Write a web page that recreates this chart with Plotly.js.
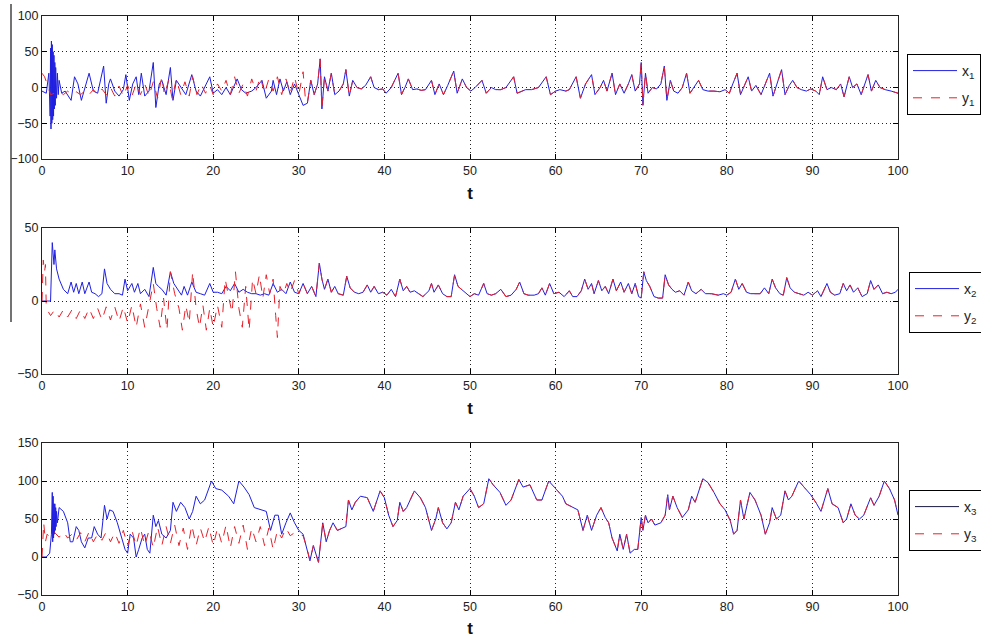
<!DOCTYPE html>
<html>
<head>
<meta charset="utf-8">
<script src="https://cdn.plot.ly/plotly-3.0.1.min.js"></script>
<style>html,body{margin:0;padding:0;background:#fff;overflow:hidden;}#chart{width:981px;height:638px;}</style>
</head>
<body>
<div id="chart"></div>
<script>
// ---- Panel 1 data: [t, value] pairs ----
const x1Early = [[0,-5],[0.5,-8],[0.8,20],[0.95,-40],[1.0,55],[1.05,-58],[1.1,65],[1.15,-50],[1.2,60],[1.25,-45],[1.3,50],[1.35,-40],[1.4,45],[1.45,-30],[1.5,35],[1.55,-25],[1.6,28],[1.7,-15],[1.8,20],[1.9,-10],[2.0,10],[2.3,-8],[2.7,-5],[3.0,-10],[3.4,-18],[3.8,15],[4.2,5],[4.6,-18],[5.0,0],[5.5,20],[6.0,-5],[6.5,-8],[7.2,30],[7.5,-22],[7.8,5],[8.0,12],[8.5,-5],[9.0,-12],[9.5,-3],[9.8,18],[10.2,-18],[10.6,5],[11.0,15],[11.3,-10],[11.6,20],[12.0,-12],[12.5,-5],[13.0,35],[13.3,-28],[13.7,5],[14.0,10],[14.5,-10],[15.0,28],[15.3,-18],[15.7,10],[16.2,0],[16.8,-10],[17.5,18],[18.0,-5],[18.5,-12],[19.6,15],[20.0,-8],[20.5,-3],[21.0,-10],[21.5,0],[22.0,-10],[22.8,12],[23.3,-3],[23.8,-8],[24.5,-5],[25.0,0],[25.7,10],[26.2,-15],[26.8,-5],[27.0,10],[27.4,-10],[27.8,12],[28.2,-5],[28.6,8],[29.0,-10],[29.5,5],[30.0,-10],[30.5,-25]];
const y1Early = [[0,20],[0.3,15],[0.6,5],[1.0,-10],[1.5,-8],[2.0,-5],[2.5,-10],[3.0,-5],[3.5,-10],[4.0,-6],[4.5,-10],[5.0,-5],[5.5,-10],[6.0,-3],[6.5,-10],[7.0,-2],[7.5,-10],[8.0,0],[8.5,-12],[9.0,2],[9.5,-12],[10.0,3],[10.5,-12],[11.0,5],[11.5,-10],[12.0,5],[12.5,-12],[13.0,8],[13.5,-15],[14.0,15],[14.3,-10],[14.8,10],[15.2,-15],[15.7,12],[16.2,-10],[16.7,8],[17.2,-12],[17.6,15],[18.1,-10],[18.6,5],[19.1,-8],[19.6,3],[20.0,-10],[20.5,5],[21.0,-5],[21.5,10],[22.0,-10],[22.5,15],[23.0,-8],[23.5,5],[24.0,-12],[24.5,12],[25.0,-5],[25.5,15],[26.0,-8],[26.5,12],[27.0,-5],[27.5,15],[28.0,-10],[28.5,12],[29.0,-8],[29.5,15],[30.0,-10],[30.5,22],[30.8,-20]];
const sync1 = [[31.0,-22],[31.4,10],[31.8,-10],[32.2,5],[32.5,40],[32.7,-30],[33.0,15],[33.4,-5],[33.8,20],[34.2,-10],[34.7,-5],[35.2,5],[35.5,25],[35.9,-12],[36.3,10],[36.8,0],[37.3,-2],[37.8,3],[38.4,15],[38.8,0],[39.3,-3],[39.8,-2],[40.2,-8],[40.8,0],[41.6,20],[42.0,-10],[42.4,0],[42.8,12],[43.3,-3],[43.8,-2],[44.3,-4],[44.8,-3],[45.5,10],[45.9,-10],[46.4,5],[46.9,-10],[47.4,3],[48.1,23],[48.5,-8],[49.1,12],[49.6,0],[50.1,-5],[50.6,0],[51.4,10],[51.9,-8],[52.5,0],[53.0,-3],[53.6,-3],[54.2,0],[55.1,15],[55.5,-8],[56.0,-5],[56.5,-3],[57.2,-3],[58.0,0],[58.9,15],[59.4,-10],[60.0,-5],[60.5,-3],[61.2,-5],[61.6,-3],[62.4,15],[62.9,-15],[63.5,5],[64.2,18],[64.6,-10],[65.2,0],[65.6,10],[66.0,-5],[66.6,20],[67.0,-10],[67.5,5],[68.0,-8],[68.5,5],[68.9,18],[69.3,-5],[69.8,5],[70.0,35],[70.2,-25],[70.5,20],[70.8,-8],[71.3,0],[71.8,-2],[72.3,5],[72.7,30],[73.0,-18],[73.4,10],[73.8,-5],[74.3,-8],[74.8,0],[75.3,20],[75.7,-8],[76.2,2],[76.7,10],[77.2,-3],[77.8,-5],[78.5,-5],[79.2,-6],[79.8,-3],[80.3,-8],[80.7,5],[81.2,20],[81.6,-10],[82.0,2],[82.5,15],[82.9,-5],[83.4,3],[84.0,-10],[84.5,5],[85.0,20],[85.4,-12],[85.9,5],[86.4,25],[86.8,-10],[87.3,3],[87.7,10],[88.2,0],[88.7,-3],[89.3,-5],[89.8,-2],[90.4,-5],[90.8,-10],[91.2,15],[91.7,-3],[92.2,0],[92.8,-3],[93.3,5],[93.7,-13],[94.3,15],[94.7,0],[95.2,5],[95.7,-10],[96.5,18],[96.9,-5],[97.4,10],[97.9,0],[98.5,-3],[99.2,-5],[100,-8]];

// ---- Panel 2 data ----
const x2Early = [[0,0],[1.0,0],[1.2,40],[1.4,25],[1.5,35],[1.7,22],[2.0,15],[2.5,8],[3.0,5],[3.4,13],[3.7,6],[4.0,12],[4.3,5],[4.7,13],[5.0,5],[5.5,13],[5.8,6],[6.2,5],[6.6,3],[7.0,5],[7.3,22],[7.6,12],[8.0,8],[8.5,5],[9.0,5],[9.4,4],[9.7,15],[10.0,7],[10.5,12],[10.8,6],[11.2,12],[11.5,5],[12.0,8],[12.5,3],[13.0,23],[13.3,12],[13.6,10],[14.0,8],[14.5,4],[15.0,20],[15.4,12],[15.8,8],[16.3,4],[16.6,10],[17.0,4],[17.5,13],[18.0,6],[18.5,5],[19.0,4],[19.6,12],[20.0,6],[20.5,6],[21.0,5],[21.5,10],[22.0,7],[22.5,12],[23.0,6],[23.5,8],[24.0,6],[24.5,5],[25.0,5],[25.5,4],[26.0,5],[26.5,4],[27.0,12],[27.5,6],[28.0,8],[28.5,5],[29.0,13],[29.5,6],[30.0,5],[30.5,12]];
const y2Early = [[0,0],[0.15,28],[0.3,20],[0.4,25],[0.5,-5],[1.0,-10],[1.5,-6],[2.0,-11],[2.5,-6],[3.0,-11],[3.5,-6],[4.0,-12],[4.5,-6],[5.0,-12],[5.5,-5],[6.0,-12],[6.5,-5],[7.0,-13],[7.5,-4],[8.0,-13],[8.5,-4],[9.0,-14],[9.5,-4],[10.0,-15],[10.5,-3],[11.0,-18],[11.5,-2],[12.0,-18],[12.5,-3],[13.0,12],[13.4,-5],[13.8,-18],[14.2,2],[14.6,-20],[15.0,20],[15.5,5],[16.0,-5],[16.4,-20],[16.8,-3],[17.2,-15],[17.6,20],[18.0,-5],[18.4,-18],[18.8,-3],[19.2,-20],[19.6,-5],[20.0,-18],[20.5,-3],[21.0,-18],[21.4,15],[21.8,3],[22.2,-8],[22.6,20],[23.0,-5],[23.4,-18],[23.8,10],[24.2,-20],[24.6,15],[25.0,5],[25.4,18],[25.8,2],[26.2,18],[26.6,5],[27.0,15],[27.3,-10],[27.5,-25],[27.8,10],[28.2,5],[28.6,12],[29.0,6],[29.5,14],[30.0,5],[30.5,12]];
const sync2 = [[31.0,5],[31.5,10],[32.0,3],[32.4,26],[32.7,15],[33.0,8],[33.4,15],[33.8,6],[34.2,10],[34.6,5],[35.2,4],[35.6,17],[36.0,9],[36.5,6],[37.0,5],[37.5,6],[38.0,11],[38.4,6],[38.8,10],[39.3,5],[39.8,6],[40.3,4],[40.8,8],[41.3,3],[41.8,15],[42.2,7],[42.6,10],[43.0,6],[43.5,7],[44.0,5],[44.5,3],[45.2,7],[45.5,12],[45.8,6],[46.3,11],[46.8,5],[47.3,3],[47.8,3],[48.2,18],[48.6,10],[49.0,8],[49.5,5],[50.0,3],[50.5,5],[51.0,4],[51.6,12],[52.0,5],[52.5,4],[53.0,5],[53.6,8],[54.2,3],[54.8,4],[55.4,8],[55.8,13],[56.3,5],[56.8,4],[57.5,4],[58.0,5],[58.4,9],[58.8,4],[59.3,12],[59.8,5],[60.4,6],[61.0,3],[61.6,7],[62.0,3],[62.5,3],[63.0,7],[63.4,15],[63.8,8],[64.2,12],[64.5,5],[65.0,14],[65.4,7],[65.8,10],[66.2,5],[66.7,15],[67.1,7],[67.6,13],[68.0,6],[68.5,12],[68.9,5],[69.3,12],[69.7,3],[70.0,2],[70.3,20],[70.6,14],[71.0,10],[71.5,3],[72.0,2],[72.5,2],[72.8,18],[73.2,11],[73.6,8],[74.0,6],[74.5,7],[75.0,4],[75.5,13],[75.9,7],[76.4,5],[77.0,8],[77.5,5],[78.2,5],[79.0,4],[79.6,5],[80.0,4],[80.5,6],[81.0,15],[81.4,8],[81.8,12],[82.3,6],[82.8,5],[83.3,5],[83.9,5],[84.4,9],[84.9,5],[85.3,15],[85.7,9],[86.2,5],[86.6,4],[87.0,16],[87.4,9],[87.9,6],[88.5,5],[89.0,4],[89.5,6],[90.0,4],[90.6,7],[91.0,3],[91.7,12],[92.1,6],[92.6,4],[93.2,5],[93.6,12],[94.0,7],[94.4,11],[94.8,6],[95.3,9],[95.8,3],[96.4,5],[96.8,14],[97.2,8],[97.7,11],[98.2,5],[98.7,6],[99.2,5],[99.7,6],[100,8]];

// ---- Panel 3 data ----
const x3Early = [[0,0],[0.5,0],[0.9,5],[1.1,30],[1.2,85],[1.25,20],[1.3,80],[1.35,25],[1.4,70],[1.45,30],[1.5,70],[1.55,35],[1.6,65],[1.65,40],[1.7,60],[1.8,45],[2.0,65],[2.5,60],[3.0,45],[3.3,20],[3.6,20],[4.0,40],[4.3,35],[4.6,20],[5.0,12],[5.4,25],[5.8,25],[6.1,40],[6.5,30],[6.9,25],[7.3,68],[7.6,50],[7.9,62],[8.3,60],[8.8,45],[9.3,25],[9.7,10],[10.0,5],[10.3,30],[10.7,25],[11.0,0],[11.3,10],[11.7,25],[12.0,30],[12.3,10],[12.6,5],[13.0,55],[13.3,40],[13.6,48],[14.0,30],[14.5,25],[15.0,35],[15.3,72],[15.7,60],[16.2,72],[16.7,65],[17.2,50],[17.6,60],[18.0,80],[18.5,70],[19.0,75],[19.8,100],[20.3,90],[21.0,88],[21.8,80],[22.4,70],[23.0,100],[23.6,92],[24.2,82],[24.8,65],[25.5,62],[26.2,60],[26.7,35],[27.2,55],[27.6,55],[28.0,30],[28.5,45],[29.0,58],[29.5,45],[30.0,35],[30.5,30],[31.0,10]];
const y3Early = [[0,0],[0.2,45],[0.4,20],[0.6,30],[1.0,25],[1.5,32],[2.0,26],[2.5,33],[3.0,25],[3.5,30],[4.0,22],[4.5,32],[5.0,20],[5.5,33],[6.0,20],[6.5,30],[7.0,22],[7.5,33],[8.0,20],[8.5,32],[9.0,18],[9.5,35],[10.0,15],[10.5,35],[11.0,15],[11.5,38],[12.0,15],[12.5,35],[13.0,12],[13.5,40],[14.0,15],[14.5,40],[15.0,18],[15.5,42],[16.0,15],[16.5,38],[17.0,10],[17.5,42],[18.0,15],[18.5,38],[19.0,20],[19.5,40],[20.0,15],[20.5,38],[21.0,18],[21.5,42],[22.0,12],[22.5,40],[23.0,18],[23.5,42],[24.0,10],[24.5,38],[25.0,20],[25.5,40],[26.0,15],[26.5,38],[27.0,10],[27.5,35],[28.0,25],[28.5,38],[29.0,28],[29.5,32],[30.0,30],[30.5,28],[31.0,10]];
const sync3 = [[31.3,-5],[31.7,15],[32.3,-7],[32.8,45],[33.2,20],[33.6,35],[34.0,45],[34.5,35],[35.0,38],[35.5,40],[35.8,75],[36.2,62],[36.6,72],[37.2,80],[38.0,78],[38.7,60],[39.5,87],[40.0,78],[40.5,55],[41.0,40],[41.5,48],[41.8,72],[42.2,60],[42.6,65],[43.5,87],[44.2,78],[44.8,65],[45.5,35],[46.0,50],[46.3,65],[46.8,45],[47.3,37],[47.8,45],[48.1,60],[48.3,72],[48.7,62],[49.2,80],[50.0,90],[50.5,80],[51.0,65],[51.6,70],[52.2,103],[52.7,95],[53.5,85],[54.2,68],[54.8,75],[55.7,102],[56.2,92],[57.0,95],[57.8,75],[58.4,75],[59.2,100],[59.8,92],[60.8,80],[61.2,70],[62.0,65],[62.6,62],[63.2,35],[63.7,55],[64.2,35],[64.8,55],[65.3,65],[65.8,52],[66.2,45],[66.6,25],[67.2,8],[67.5,30],[67.9,10],[68.3,30],[68.7,5],[69.2,10],[69.6,10],[70.0,52],[70.2,35],[70.5,55],[70.8,45],[71.2,50],[71.6,42],[72.3,45],[72.8,55],[73.1,82],[73.3,62],[73.7,80],[74.2,65],[74.8,52],[75.5,62],[75.9,80],[76.3,72],[77.2,103],[77.8,98],[78.5,85],[79.2,70],[79.8,62],[80.4,48],[80.8,30],[81.2,35],[81.6,75],[82.0,50],[82.7,85],[83.3,75],[84.0,55],[84.5,30],[85.0,45],[85.3,65],[85.8,50],[86.3,55],[86.8,87],[87.2,75],[87.6,80],[88.4,100],[89.0,92],[89.8,82],[90.5,70],[91.0,60],[91.8,90],[92.3,70],[93.0,65],[93.6,45],[94.0,50],[94.5,70],[95.0,55],[95.5,50],[96.0,55],[96.8,78],[97.2,68],[97.8,80],[98.4,100],[99.0,90],[99.6,75],[100,55]];

const xTickVals = [0,10,20,30,40,50,60,70,80,90,100];
const yTicks1 = [-100,-50,0,50,100];
const yTicks2 = [-50,0,50];
const yTicks3 = [-50,0,50,100,150];

const tOf = a => a.map(p => p[0]);
const vOf = a => a.map(p => p[1]);
const BLUE = '#1f1fe0', RED = '#e8202a';

function pair(early, sync, name, color, dash, axis, legend, showleg, grp) {
  const s = early.concat(sync);
  return {x: tOf(s), y: vOf(s), type:'scatter', mode:'lines', name: name,
    line:{color:color, width:1, dash:dash}, xaxis:'x'+axis, yaxis:'y'+axis,
    legend: legend, legendgroup: grp, showlegend: showleg, hoverinfo:'skip'};
}

const traces = [
  pair(x1Early, sync1, 'x<sub>1</sub>', BLUE, 'solid', '', 'legend', true, 'a1'),
  pair(y1Early, sync1, 'y<sub>1</sub>', RED, 'dash', '', 'legend', true, 'b1'),
  pair(x2Early, sync2, 'x<sub>2</sub>', BLUE, 'solid', '2', 'legend2', true, 'a2'),
  pair(y2Early, sync2, 'y<sub>2</sub>', RED, 'dash', '2', 'legend2', true, 'b2'),
  pair(x3Early, sync3, 'x<sub>3</sub>', BLUE, 'solid', '3', 'legend3', false, 'c3'),
  {x:[null], y:[null], type:'scatter', mode:'lines', name:'x<sub>3</sub>', line:{color:'#1a1a40', width:1}, xaxis:'x3', yaxis:'y3', legend:'legend3', legendgroup:'a3'},
  pair(y3Early, sync3, 'y<sub>3</sub>', RED, 'dash', '3', 'legend3', true, 'b3')
];

const W = 981, H = 638;
const xd = [42/W, 898/W];
const yd = t => [1 - t[1]/H, 1 - t[0]/H];
const FAM = 'Liberation Sans, Arial, sans-serif';
const font = {family:FAM, size:12.5, color:'#222'};

function xax(anchor) {
  return {domain:xd, range:[0,100], tickvals:xTickVals, ticks:'inside', ticklen:5, tickcolor:'#000',
    showline:true, linecolor:'#222', linewidth:1, mirror:'ticks', showgrid:true, gridcolor:'#222',
    griddash:'1px,3px', gridwidth:1, zeroline:false, anchor:anchor, tickfont:font, automargin:false,
    title:{text:'<b>t</b>', font:{family:FAM, size:17, color:'#111'}, standoff:10}};
}
function yax(anchor, dom, range, ticks) {
  return {domain:dom, range:range, tickvals:ticks, ticks:'inside', ticklen:5, tickcolor:'#000',
    showline:true, linecolor:'#222', linewidth:1, mirror:'ticks', showgrid:true, gridcolor:'#222',
    griddash:'1px,3px', gridwidth:1, zeroline:false, anchor:anchor, tickfont:font, automargin:false};
}
const legStyle = (x, ytop) => ({x:x/W, y:1 - ytop/H, xanchor:'left', yanchor:'top',
  bordercolor:'#000', borderwidth:1, bgcolor:'#fff', font:{family:FAM, size:14, color:'#222'},
  tracegroupgap:6, itemwidth:44});

const layout = {
  width:W, height:H, margin:{l:0, r:0, t:0, b:0, autoexpand:false}, paper_bgcolor:'#fff', plot_bgcolor:'#fff',
  showlegend:true,
  xaxis: xax('y'), yaxis: yax('x', yd([16,159]), [-100,100], yTicks1),
  xaxis2: xax('y2'), yaxis2: yax('x2', yd([228,374]), [-50,50], yTicks2),
  xaxis3: xax('y3'), yaxis3: yax('x3', yd([443,595]), [-50,150], yTicks3),
  legend: legStyle(907, 54), legend2: legStyle(909, 272), legend3: legStyle(909, 490),
  shapes:[{type:'line', xref:'paper', yref:'paper', x0:11/W, x1:11/W, y0:1-4/H, y1:1-322/H, line:{color:'#444', width:1.5}}]
};

Plotly.newPlot('chart', traces, layout, {displayModeBar:false, staticPlot:true});
</script>
</body>
</html>
